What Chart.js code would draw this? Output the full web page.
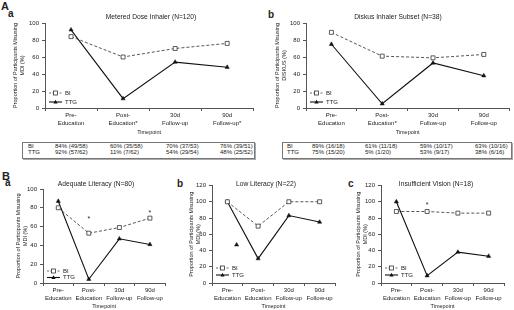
<!DOCTYPE html>
<html>
<head>
<meta charset="utf-8">
<script src="https://cdn.jsdelivr.net/npm/chart.js@4.4.0/dist/chart.umd.min.js"></script>
<style>
  html, body { margin: 0; padding: 0; background: #fff; }
  body { width: 514px; height: 310px; position: relative; overflow: hidden;
         font-family: "Liberation Sans", Arial, sans-serif; color: #222; }
  canvas { position: absolute; }
  .lbl { position: absolute; font-weight: bold; line-height: 1; }
  .tbl { position: absolute; box-sizing: border-box; border: 1px solid #777;
         box-shadow: 1px 1px 0 #aaa; height: 17px; font-size: 6px; }
  .tbl span { position: absolute; white-space: nowrap; line-height: 1; }
</style>
</head>
<body>
<div class="lbl" style="left:1px;top:1px;font-size:11px">A</div>
<div class="lbl" style="left:8px;top:9px;font-size:10px">a</div>
<div class="lbl" style="left:268px;top:10px;font-size:10px">b</div>
<div class="lbl" style="left:2px;top:171px;font-size:11px">B</div>
<div class="lbl" style="left:5px;top:178px;font-size:10px">a</div>
<div class="lbl" style="left:177px;top:179px;font-size:10px">b</div>
<div class="lbl" style="left:348px;top:179px;font-size:10px">c</div>

<canvas id="mdi"></canvas>
<canvas id="diskus"></canvas>
<canvas id="adequate"></canvas>
<canvas id="lowlit"></canvas>
<canvas id="vision"></canvas>

<div class="tbl" id="tblMdi" style="left:22px;top:142px;width:233px"></div>
<div class="tbl" id="tblDiskus" style="left:282px;top:142px;width:230px"></div>

<script>
// x categories
const labelsMdi = [['Pre-', 'Education'], ['Post-', 'Education*'], ['30d', 'Follow-up'], ['90d', 'Follow-up*']];
const labelsDiskus = [['Pre-', 'Education'], ['Post-', 'Education*'], ['30d', 'Follow-up'], ['90d', 'Follow-up']];
const labelsSub = [['Pre-', 'Education'], ['Post-', 'Education'], ['30d', 'Follow-up'], ['90d', 'Follow-up']];

// A a - metered dose inhaler
const mdiBI = [84, 60, 70, 76];
const mdiTTG = [92, 11, 54, 48];
const mdiBIn = ['49/58', '35/58', '37/53', '39/51'];
const mdiTTGn = ['57/62', '7/62', '29/54', '25/52'];

// A b - diskus subset
const diskusBI = [89, 61, 59, 63];
const diskusTTG = [75, 5, 53, 38];
const diskusBIn = ['16/18', '11/18', '10/17', '10/16'];
const diskusTTGn = ['15/20', '1/20', '9/17', '6/16'];

// B a - adequate literacy
const adequateBI = [80, 53, 59, 69];
const adequateTTG = [87, 4, 47, 41];
const adequateStars = [{x: 1, y: 70}, {x: 3, y: 77}];

// B b - low literacy
const lowBI = [100, 70, 100, 100];
const lowTTG = [100, 30, 83, 75];
const lowStrayTTG = [{x: 0.3, y: 47}];

// B c - insufficient vision
const visionBI = [88, 88, 86, 86];
const visionTTG = [100, 9, 38, 33];
const visionStars = [{x: 1, y: 98}];

const FONT = '"Liberation Sans", Arial, sans-serif';
const TXT = '#222';
const AXIS = '#555';

function legendRow(ctx, x, y, dashed, text) {
    ctx.beginPath();
    ctx.strokeStyle = dashed ? '#444' : '#111';
    ctx.lineWidth = dashed ? 0.8 : 1.1;
    ctx.setLineDash(dashed ? [2, 1.5] : []);
    ctx.moveTo(x, y);
    ctx.lineTo(x + 13, y);
    ctx.stroke();
    ctx.setLineDash([]);
    if (dashed) {
        ctx.fillStyle = '#fff';
        ctx.fillRect(x + 4.5, y - 2, 4, 4);
        ctx.lineWidth = 0.8;
        ctx.strokeStyle = '#333';
        ctx.strokeRect(x + 4.5, y - 2, 4, 4);
    } else {
        ctx.fillStyle = '#111';
        ctx.beginPath();
        ctx.moveTo(x + 6.5, y - 2.3);
        ctx.lineTo(x + 8.6, y + 1.4);
        ctx.lineTo(x + 4.4, y + 1.4);
        ctx.closePath();
        ctx.fill();
    }
    ctx.fillStyle = TXT;
    ctx.font = '6px ' + FONT;
    ctx.textAlign = 'left';
    ctx.textBaseline = 'middle';
    ctx.fillText(text, x + 16, y);
}

// title, legend and asterisks
const decor = {
    id: 'decor',
    afterDraw(chart, args, o) {
        const ctx = chart.ctx;
        const a = chart.chartArea;
        ctx.save();
        ctx.fillStyle = TXT;
        ctx.font = '6.7px ' + FONT;
        ctx.textAlign = 'center';
        ctx.textBaseline = 'middle';
        ctx.fillText(o.title, o.tx, o.ty);

        ctx.font = '7px ' + FONT;
        ctx.textBaseline = 'alphabetic';
        (o.stars || []).forEach(s => {
            ctx.fillText('*', chart.scales.x.getPixelForValue(s.x), chart.scales.y.getPixelForValue(s.y) + 4);
        });

        legendRow(ctx, a.left + 4, a.bottom - o.lg[0], true, 'BI');
        legendRow(ctx, a.left + 4, a.bottom - o.lg[1], false, 'TTG');
        ctx.restore();
    }
};

function makeChart(id, cfg) {
    const [L, T, W, H] = cfg.box;
    const [l, t, r, b] = cfg.area;
    const canvas = document.getElementById(id);
    canvas.width = W; canvas.height = H;
    canvas.style.left = L + 'px'; canvas.style.top = T + 'px';
    canvas.style.width = W + 'px'; canvas.style.height = H + 'px';

    const tickFont = {family: FONT, size: 6, lineHeight: 1.25};
    const axisTitleFont = {family: FONT, size: 5.5, lineHeight: 1.35};
    const half = 5.5 * 1.35 / 2;

    const datasets = [
        {
            label: 'BI', data: cfg.bi,
            borderColor: '#444', borderWidth: 0.9, borderDash: [3, 2],
            pointStyle: 'rect', pointRadius: 2.8, pointBackgroundColor: '#fff',
            pointBorderColor: '#333', pointBorderWidth: 0.8, fill: false, tension: 0
        },
        {
            label: 'TTG', data: cfg.ttg,
            borderColor: '#111', borderWidth: 1.1,
            pointStyle: 'triangle', pointRadius: 2.4, pointBackgroundColor: '#111',
            pointBorderColor: '#111', pointBorderWidth: 0.5, fill: false, tension: 0
        }
    ];
    const scales = {
        x: {
            type: 'category', offset: true,
            grid: {offset: true, drawOnChartArea: false, drawTicks: true, tickLength: 3, color: AXIS},
            border: {color: AXIS, width: 1},
            ticks: {font: tickFont, color: TXT, padding: 1, maxRotation: 0, autoSkip: false},
            title: {display: true, text: 'Timepoint', font: axisTitleFont, color: TXT,
                    padding: {top: 0, bottom: (T + H) - cfg.xTitleY - half}},
            afterFit(s) { s.height = T + H - b; }
        },
        y: {
            min: 0, max: cfg.yMax,
            ticks: {stepSize: 20, font: tickFont, color: TXT, padding: 3},
            grid: {drawOnChartArea: false, tickLength: 3, color: AXIS},
            border: {color: AXIS, width: 1},
            title: {display: true, text: cfg.yTitle, font: axisTitleFont, color: TXT,
                    padding: {top: cfg.yTitleX - L - half, bottom: 0}},
            afterFit(s) { s.width = l - L; }
        }
    };
    if (cfg.stray) {
        datasets.push({
            label: 'TTG extra', data: cfg.stray, xAxisID: 'x2', showLine: false,
            pointStyle: 'triangle', pointRadius: 2.4, pointBackgroundColor: '#111',
            pointBorderColor: '#111', pointBorderWidth: 0.5
        });
        scales.x2 = {type: 'linear', axis: 'x', position: 'bottom', display: false, min: -0.5, max: 3.5};
    }

    new Chart(canvas, {
        type: 'line',
        data: {labels: cfg.labels, datasets: datasets},
        options: {
            responsive: false, animation: false, devicePixelRatio: 1,
            layout: {padding: {left: 0, top: t - T, right: L + W - r, bottom: 0}},
            plugins: {
                legend: {display: false}, tooltip: {enabled: false},
                decor: {title: cfg.title, tx: cfg.titlePos[0] - L, ty: cfg.titlePos[1] - T,
                        lg: cfg.lg, stars: cfg.stars || []}
            },
            scales: scales
        },
        plugins: [decor]
    });
}

makeChart('mdi', {
    box: [0, 0, 258, 140], area: [45, 23, 255, 108],
    labels: labelsMdi, bi: mdiBI, ttg: mdiTTG, yMax: 100,
    title: 'Metered Dose Inhaler (N=120)', titlePos: [151, 17],
    yTitle: ['Proportion of Participants Misusing', 'MDI (%)'], yTitleX: 15, xTitleY: 132,
    lg: [15, 6]
});
makeChart('diskus', {
    box: [258, 0, 256, 140], area: [306, 23, 511, 108],
    labels: labelsDiskus, bi: diskusBI, ttg: diskusTTG, yMax: 100,
    title: 'Diskus Inhaler Subset (N=38)', titlePos: [398, 17],
    yTitle: ['Proportion of Participants Misusing', 'DISKUS (%)'], yTitleX: 277, xTitleY: 132,
    lg: [15, 6]
});
makeChart('adequate', {
    box: [0, 170, 170, 140], area: [43, 189, 167, 283],
    labels: labelsSub, bi: adequateBI, ttg: adequateTTG, yMax: 100,
    title: 'Adequate Literacy (N=80)', titlePos: [96, 184],
    yTitle: ['Proportion of Participants Misusing', 'MDI (%)'], yTitleX: 18, xTitleY: 306,
    lg: [12, 5.5], stars: adequateStars
});
makeChart('lowlit', {
    box: [170, 170, 170, 140], area: [212, 185.5, 335, 283],
    labels: labelsSub, bi: lowBI, ttg: lowTTG, yMax: 120,
    title: 'Low Literacy (N=22)', titlePos: [266, 184],
    yTitle: ['Proportion of Participants Misusing', 'MDI (%)'], yTitleX: 191, xTitleY: 306,
    lg: [15, 8], stray: lowStrayTTG
});
makeChart('vision', {
    box: [340, 170, 174, 140], area: [381, 185.5, 504, 283],
    labels: labelsSub, bi: visionBI, ttg: visionTTG, yMax: 120,
    title: 'Insufficient Vision (N=18)', titlePos: [436, 184],
    yTitle: ['Proportion of Participants Misusing', 'MDI (%)'], yTitleX: 358, xTitleY: 306,
    lg: [15, 8], stars: visionStars
});

// tables under panel A
function fillTable(id, rows, rowX, colX) {
    const el = document.getElementById(id);
    rows.forEach((row, ri) => {
        const top = ri * 6;
        const head = document.createElement('span');
        head.textContent = row.name;
        head.style.left = rowX + 'px';
        head.style.top = top + 'px';
        el.appendChild(head);
        row.pct.forEach((p, ci) => {
            const s = document.createElement('span');
            s.textContent = p + '% (' + row.n[ci] + ')';
            s.style.left = colX[ci] + 'px';
            s.style.top = top + 'px';
            el.appendChild(s);
        });
    });
}
fillTable('tblMdi', [{name: 'BI', pct: mdiBI, n: mdiBIn}, {name: 'TTG', pct: mdiTTG, n: mdiTTGn}],
    5, [32, 87, 143, 197]);
fillTable('tblDiskus', [{name: 'BI', pct: diskusBI, n: diskusBIn}, {name: 'TTG', pct: diskusTTG, n: diskusTTGn}],
    4, [29, 82, 137, 192]);
</script>
</body>
</html>
